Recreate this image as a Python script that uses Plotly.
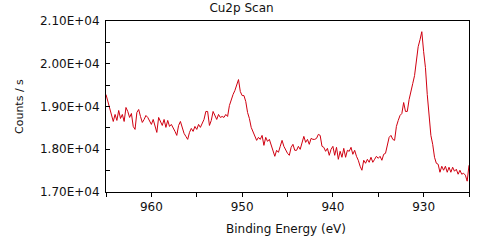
import numpy as np
import plotly.graph_objects as go

# Binding energy grid (eV), 0.2 eV steps from 965 down to 925
e_start = 965.0
e_step = 0.2
counts = [
    19280, 19117, 19000, 18860, 18650, 18814, 18674, 18907, 18720, 18814,
    18650, 18977, 18884, 18744, 18837, 18534, 18464, 18860, 18930, 18767,
    18627, 18697, 18790, 18744, 18650, 18581, 18697, 18557, 18394, 18744,
    18650, 18557, 18697, 18511, 18674, 18534, 18581, 18511, 18418, 18324,
    18557, 18650, 18511, 18371, 18301, 18231, 18394, 18487, 18418, 18534,
    18464, 18581, 18511, 18604, 18697, 18884, 18884, 18557, 18674, 18884,
    18790, 18697, 18814, 18744, 18767, 18744, 18814, 18767, 19023, 19186,
    19280, 19373, 19489, 19630, 19350, 19256, 19256, 19117, 18860, 18720,
    18511, 18394, 18301, 18208, 18278, 18231, 18324, 18091, 18278, 18184,
    18231, 18091, 17998, 17835, 17975, 17928, 18068, 18208, 18068, 17975,
    17905, 17858, 18045, 18115, 17975, 17975, 18068, 17998, 18161, 18301,
    18161, 18231, 18115, 18254, 18231, 18231, 18254, 18348, 18324, 18068,
    18045, 17952, 18021, 17858, 17998, 18068, 17858, 18045, 17765, 17952,
    17812, 18021, 17812, 17975, 17952, 18045, 17882, 17975, 17835, 17742,
    17602, 17509, 17742, 17672, 17765, 17695, 17812, 17695, 17765, 17835,
    17788, 17835, 17742, 17882, 17905, 18091, 18278, 18324, 18231, 18208,
    18534, 18674, 18790, 18837, 19093, 18884, 18884, 19163, 19326, 19536,
    19723, 20096, 20399, 20562, 20750, 20282, 19909, 19280, 18744, 18324,
    18115, 17812, 17672, 17649, 17462, 17602, 17509, 17602, 17462, 17579,
    17462, 17579, 17486, 17532, 17416, 17509, 17416, 17439, 17393, 17253,
    17626,
]
energies = np.round(e_start - e_step * np.arange(len(counts)), 1)

y_tickvals = [17000, 18000, 19000, 20000, 21000]
y_ticktext = ["1.70E+04", "1.80E+04", "1.90E+04", "2.00E+04", "2.10E+04"]
x_tickvals = [960, 950, 940, 930]
x_ticktext = ["960", "950", "940", "930"]

FONT = "DejaVu Sans"

fig = go.Figure()
fig.add_trace(go.Scatter(
    x=energies, y=counts, mode="lines",
    line=dict(color="#d00010", width=1),
    showlegend=False,
))

fig.update_layout(
    width=483, height=245,
    margin=dict(l=106, r=14, t=21, b=53),
    paper_bgcolor="white", plot_bgcolor="white",
    font=dict(family=FONT, size=12, color="#111"),
    title=dict(text="Cu2p Scan", x=0.5, xref="container", xanchor="center",
               y=1 - 8 / 245, yref="container", yanchor="middle",
               font=dict(family=FONT, size=12, color="#111")),
    xaxis=dict(
        range=[965, 925], tickvals=x_tickvals, ticktext=x_ticktext,
        ticks="outside", ticklen=4, tickcolor="black", tickwidth=1,
        minor=dict(dtick=5, tick0=925, ticks="outside", ticklen=4,
                   tickcolor="black", showgrid=False),
        showline=True, linecolor="black", linewidth=1, mirror=True,
        showgrid=False, zeroline=False,
        tickfont=dict(family=FONT, size=12, color="#111"),
    ),
    yaxis=dict(
        range=[17000, 21000], tickvals=y_tickvals, ticktext=y_ticktext,
        ticks="inside", ticklen=4, tickcolor="black", tickwidth=1,
        minor=dict(dtick=500, tick0=17000, ticks="inside", ticklen=4,
                   tickcolor="black", showgrid=False),
        showline=True, linecolor="black", linewidth=1, mirror=True,
        showgrid=False, zeroline=False, ticklabelstandoff=3,
        tickfont=dict(family=FONT, size=12, color="#111"),
    ),
    annotations=[
        dict(text="Binding Energy (eV)", xref="paper", yref="paper",
             x=(286 - 106) / 363, y=-(229 - 192) / 171, xanchor="center",
             yanchor="middle", showarrow=False,
             font=dict(family=FONT, size=12, color="#111")),
        dict(text="Counts / s", xref="paper", yref="paper",
             x=(19.5 - 106) / 363, y=0.5, xanchor="center", yanchor="middle",
             textangle=-90, showarrow=False,
             font=dict(family=FONT, size=11, color="#111")),
    ],
)

fig.write_html("out.html")
